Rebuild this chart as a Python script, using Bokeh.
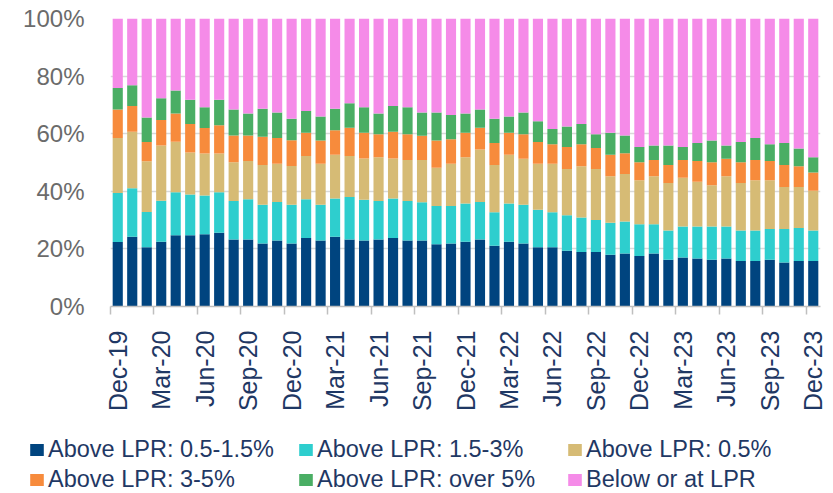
import pandas as pd
from math import pi
from bokeh.plotting import figure
from bokeh.layouts import column
from bokeh.models import (ColumnDataSource, FixedTicker, PrintfTickFormatter,
                          Legend, LegendItem, Range1d)
from bokeh.embed import file_html
from bokeh.resources import INLINE

# ---------------- data ----------------
months = list(pd.date_range("2019-12-01", periods=49, freq="MS").strftime("%b-%y"))
tick_labels = ["Dec-19", "Mar-20", "Jun-20", "Sep-20", "Dec-20", "Mar-21", "Jun-21",
               "Sep-21", "Dec-21", "Mar-22", "Jun-22", "Sep-22", "Dec-22", "Mar-23",
               "Jun-23", "Sep-23", "Dec-23"]

above_05_15 = [22.4, 24.2, 20.6, 22.5, 24.7, 24.7, 25.1, 25.6, 23.3, 23.3,
               21.9, 22.9, 21.9, 23.8, 22.9, 24.2, 23.3, 22.9, 23.3, 23.8,
               22.9, 22.9, 21.6, 21.9, 22.5, 23.3, 21.1, 22.5, 21.9, 20.6,
               20.6, 19.4, 18.9, 18.9, 18.0, 18.4, 17.5, 18.4, 16.2, 17.0,
               16.7, 16.2, 16.7, 15.8, 15.8, 16.2, 15.3, 15.8, 15.8]
above_15_3 = [17.0, 16.9, 12.2, 14.2, 15.0, 14.2, 13.4, 14.1, 13.3, 13.9,
              13.4, 13.4, 13.4, 13.4, 12.4, 13.3, 14.7, 14.2, 13.3, 13.7,
              13.7, 13.3, 13.3, 13.0, 13.3, 13.0, 11.6, 13.3, 13.4, 13.0,
              12.1, 12.3, 12.0, 11.1, 11.1, 11.1, 11.1, 10.2, 10.2, 10.8,
              11.1, 11.6, 11.1, 10.6, 10.6, 10.7, 11.6, 11.5, 10.6]
above_05 = [19.1, 19.6, 17.6, 19.2, 17.5, 14.6, 14.6, 13.4, 13.5, 13.3,
            13.8, 13.3, 13.5, 15.1, 14.3, 15.2, 14.3, 14.3, 15.2, 13.9,
            14.3, 14.7, 13.3, 14.7, 16.0, 18.2, 16.4, 16.9, 16.0, 16.0,
            16.9, 16.0, 17.8, 17.7, 16.1, 16.5, 15.2, 16.6, 16.5, 16.9,
            15.5, 14.3, 17.4, 16.5, 17.4, 16.9, 14.6, 14.2, 13.8]
above_3_5 = [9.9, 8.9, 6.7, 8.9, 9.8, 9.9, 8.9, 9.8, 9.3, 8.9,
             9.8, 8.9, 8.9, 8.0, 8.0, 8.5, 9.8, 8.9, 8.0, 9.3,
             8.9, 8.4, 9.4, 8.5, 8.5, 7.6, 7.7, 7.6, 8.5, 7.5,
             6.7, 7.7, 7.6, 7.3, 7.5, 7.2, 6.3, 5.7, 6.2, 6.2,
             7.2, 8.0, 6.1, 7.2, 7.1, 6.7, 7.6, 7.2, 6.3]
above_over5 = [7.5, 7.2, 8.5, 7.5, 8.0, 8.4, 7.2, 8.9, 9.0, 7.6,
               9.8, 8.9, 7.5, 7.6, 8.4, 7.5, 8.5, 8.9, 7.2, 8.9,
               9.4, 8.1, 9.8, 8.4, 6.7, 6.3, 8.4, 5.7, 7.6, 7.2,
               5.3, 7.1, 7.1, 4.8, 7.6, 6.2, 5.3, 5.0, 6.8, 4.5,
               6.3, 7.5, 4.6, 7.0, 7.6, 5.8, 7.7, 6.2, 5.3]
below_at = [24.1, 23.2, 34.4, 27.7, 25.0, 28.2, 30.8, 28.2, 31.6, 33.0,
            31.3, 32.6, 34.8, 32.1, 34.0, 31.3, 29.4, 30.8, 33.0, 30.4,
            30.8, 32.6, 32.6, 33.5, 33.0, 31.6, 34.8, 34.0, 32.6, 35.7,
            38.4, 37.5, 36.6, 40.2, 39.7, 40.6, 44.6, 44.1, 44.1, 44.6,
            43.2, 42.4, 44.1, 42.9, 41.5, 43.7, 43.2, 45.1, 48.2]

series_names = ["Above LPR: 0.5-1.5%", "Above LPR: 1.5-3%", "Above LPR: 0.5%",
                "Above LPR: 3-5%", "Above LPR: over 5%", "Below or at LPR"]
colors = ["#00447F", "#2ECECE", "#D6BB75", "#F78B3C", "#4AAE64", "#F58BE8"]
y_ticks = [0, 20, 40, 60, 80, 100]

# ---------------- main figure ----------------
keys = ["s1", "s2", "s3", "s4", "s5", "s6"]
idx = list(range(len(months)))
src = ColumnDataSource(dict(x=idx, month=months, s1=above_05_15, s2=above_15_3,
                            s3=above_05, s4=above_3_5, s5=above_over5, s6=below_at))

FONT = "Liberation Sans"
p = figure(output_backend="svg", toolbar_location=None, tools="",
           frame_width=710, frame_height=288,
           min_border_left=110, min_border_right=13, min_border_top=18,
           min_border_bottom=110,
           x_range=Range1d(-0.5, len(months) - 0.5), y_range=Range1d(0, 100))

rs = p.vbar_stack(keys, x="x", width=0.7, source=src, fill_color=colors,
                  line_color=None)

# x axis
tick_pos = [i for i in idx if i % 3 == 0]
xa = p.xaxis[0]
xa.ticker = FixedTicker(ticks=tick_pos, minor_ticks=[t - 0.5 for t in tick_pos])
xa.major_label_overrides = {t: lab for t, lab in zip(tick_pos, tick_labels)}
xa.major_label_orientation = pi / 2
xa.major_tick_line_color = None
xa.major_tick_out = 0
xa.major_tick_in = 0
xa.minor_tick_out = 8
xa.minor_tick_in = 0
xa.minor_tick_line_color = "#BFBFBF"
xa.minor_tick_line_width = 1.5
xa.axis_line_color = "#BFBFBF"
xa.axis_line_width = 1.5
xa.major_label_standoff = 16
xa.major_label_text_font = FONT
xa.major_label_text_font_size = "25px"
xa.major_label_text_color = "#1F3864"

# y axis
ya = p.yaxis[0]
ya.ticker = FixedTicker(ticks=y_ticks)
ya.formatter = PrintfTickFormatter(format="%d%%")
ya.axis_line_color = None
ya.major_tick_line_color = None
ya.minor_tick_line_color = None
ya.major_tick_out = 0
ya.major_label_standoff = 26
ya.major_label_text_font = FONT
ya.major_label_text_font_size = "24px"
ya.major_label_text_color = "#6B6B6B"

p.xgrid.visible = False
p.ygrid.ticker = FixedTicker(ticks=y_ticks)
p.ygrid.grid_line_color = "#D9D9D9"
p.ygrid.grid_line_width = 1.5
p.outline_line_color = None

# ---------------- legend figure ----------------
# the swatch renderers use the same data, but the x range keeps them out of view
q = figure(output_backend="svg", toolbar_location=None, tools="",
           frame_width=833, frame_height=77,
           min_border_left=0, min_border_right=0, min_border_top=0,
           min_border_bottom=0, x_axis_location=None, y_axis_location=None,
           x_range=Range1d(-1000, -999), y_range=Range1d(0, 1))
q.xgrid.visible = False
q.ygrid.visible = False
q.outline_line_color = None
swatches = [q.vbar(x="x", top=k, width=0.7, source=src, fill_color=c,
                   line_color=None)
            for k, c in zip(keys, colors)]

items = [LegendItem(label=n, renderers=[r]) for n, r in zip(series_names, swatches)]
legend = Legend(items=items, orientation="horizontal", ncols=3,
                location=(28, 0), margin=0, padding=0, spacing=3,
                glyph_width=17, glyph_height=15, label_standoff=3,
                label_width=246, label_height=27,
                label_text_font=FONT, label_text_font_size="23.5px",
                label_text_color="#1F3864",
                border_line_color=None, background_fill_alpha=0)
q.add_layout(legend, "center")

layout = column(p, q, spacing=0)
open("out.html", "w").write(file_html(layout, INLINE))
